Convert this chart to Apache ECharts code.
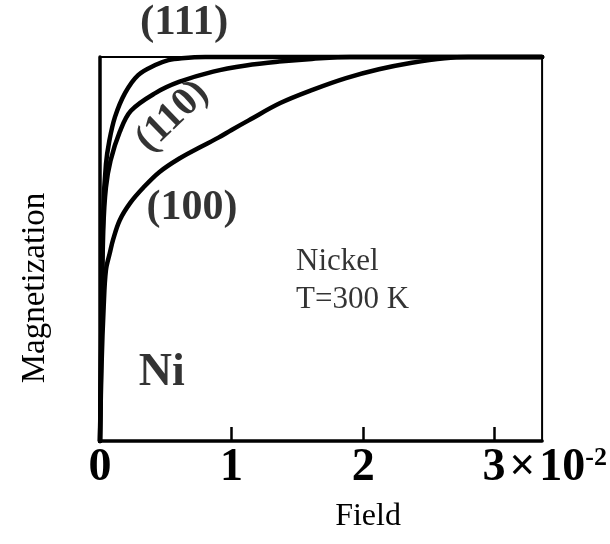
<!DOCTYPE html>
<html>
<head>
<meta charset="utf-8">
<script src="https://cdn.jsdelivr.net/npm/echarts@6/dist/echarts.min.js"></script>
<style>
  html, body { margin: 0; padding: 0; background: #ffffff; }
  #chart { width: 610px; height: 544px; }
</style>
</head>
<body>
<div id="chart"></div>
<script>
// Magnetization curves of nickel along three crystal directions (field in units of 1e-2)
const field111 = [0, 0.012, 0.025, 0.045, 0.07, 0.114, 0.19, 0.29, 0.42, 0.52, 0.62, 0.8, 3.36];
const mag111   = [0, 0.35, 0.6, 0.72, 0.78, 0.844, 0.906, 0.953, 0.979, 0.992, 0.997, 1.0, 1.0];

const field110 = [0, 0.012, 0.025, 0.045, 0.08, 0.15, 0.235, 0.42, 0.6, 0.86, 1.11, 1.36, 1.61, 1.9, 3.36];
const mag110   = [0, 0.3, 0.55, 0.66, 0.73, 0.805, 0.86, 0.906, 0.935, 0.962, 0.978, 0.988, 0.995, 1.0, 1.0];

const field100 = [0, 0.012, 0.028, 0.045, 0.075, 0.1, 0.15, 0.23, 0.33, 0.45, 0.6, 0.76, 0.9, 1.0, 1.13, 1.37, 1.62, 1.87, 2.12, 2.37, 2.62, 2.8, 3.36];
const mag100   = [0, 0.2, 0.35, 0.445, 0.49, 0.525, 0.575, 0.62, 0.66, 0.7, 0.735, 0.765, 0.79, 0.81, 0.835, 0.88, 0.915, 0.945, 0.968, 0.985, 0.997, 1.0, 1.0];

// Axis tick labels
const xTickValues = [0, 1, 2, 3];
const xTickLabels = ['0', '1', '2', '3'];
const xScaleSuffix = '\u200A×\u200A10';
const xScaleExponent = '-2';

// Text annotations placed in data coordinates
const noteText  = ['(111)', '(110)', '(100)', 'Nickel\nT=300 K', 'Ni'];
const noteField = [0.64, 0.55, 0.70, 1.49, 0.47];
const noteMag   = [1.09, 0.845, 0.607, 0.417, 0.178];

const zip = (xs, ys) => xs.map((x, i) => [x, ys[i]]);

const SERIF = '"Liberation Serif", "Times New Roman", serif';

const curveStyle = { color: '#000', width: 4.5, cap: 'round', join: 'round' };

function curve(name, xs, ys) {
  return {
    name: name,
    type: 'line',
    data: zip(xs, ys),
    showSymbol: false,
    smooth: 0.35,
    clip: false,
    lineStyle: curveStyle,
    z: 3
  };
}

const noteStyles = [
  { fontSize: 43, fontWeight: 'bold', rotate: 0, align: 'center' },
  { fontSize: 40, fontWeight: 'bold', rotate: 44, align: 'center' },
  { fontSize: 42, fontWeight: 'bold', rotate: 0, align: 'center' },
  { fontSize: 31, fontWeight: 'normal', rotate: 0, align: 'left', lineHeight: 38 },
  { fontSize: 46, fontWeight: 'bold', rotate: 0, align: 'center' }
];

const chart = echarts.init(document.getElementById('chart'), null, { renderer: 'canvas' });

chart.setOption({
  backgroundColor: '#ffffff',
  animation: false,
  grid: {
    left: 100, right: 67, top: 57, bottom: 103,
    show: true, borderColor: '#000', borderWidth: 2
  },
  xAxis: {
    type: 'value',
    min: 0, max: 3.36, interval: 1,
    name: 'Field',
    nameLocation: 'middle',
    nameGap: 60,
    nameTextStyle: { fontFamily: SERIF, fontSize: 32, color: '#000', padding: [0, 0, 0, 94] },
    axisLine: { show: true, onZero: false, lineStyle: { color: '#000', width: 3.5 } },
    axisTick: {
      show: true, inside: true, length: 14,
      lineStyle: { color: '#000', width: 2.5 },
      customValues: xTickValues.slice(1)
    },
    axisLabel: {
      margin: 4,
      customValues: xTickValues,
      formatter: function (v) {
        const i = xTickValues.indexOf(Math.round(v));
        if (i < 0) return '';
        if (i === xTickValues.length - 1) {
          return '{pad|}{n|' + xTickLabels[i] + '}{n|' + xScaleSuffix + '}{s|' + xScaleExponent + '}';
        }
        return '{n|' + xTickLabels[i] + '}';
      },
      rich: {
        n: { fontFamily: SERIF, fontSize: 46, fontWeight: 'bold', color: '#000' },
        s: { fontFamily: SERIF, fontSize: 26, fontWeight: 'bold', color: '#000', verticalAlign: 'top', padding: [0, 0, 18, 0] },
        pad: { width: 100 }
      }
    },
    splitLine: { show: false }
  },
  yAxis: {
    type: 'value',
    min: 0, max: 1,
    name: 'Magnetization',
    nameLocation: 'middle',
    nameGap: 48,
    nameRotate: 90,
    nameTextStyle: { fontFamily: SERIF, fontSize: 33, color: '#000', padding: [0, 78, 0, 0] },
    axisLine: { show: true, onZero: false, lineStyle: { color: '#000', width: 3.5 } },
    axisTick: { show: false },
    axisLabel: { show: false },
    splitLine: { show: false }
  },
  series: [
    curve('(100)', field100, mag100),
    curve('(110)', field110, mag110),
    curve('(111)', field111, mag111),
    {
      name: 'notes',
      type: 'scatter',
      symbolSize: 0,
      clip: false,
      silent: true,
      z: 5,
      data: noteText.map((t, i) => ({
        value: [noteField[i], noteMag[i]],
        label: Object.assign({
          show: true,
          position: 'inside',
          formatter: t,
          color: '#000',
          fontFamily: SERIF,
          verticalAlign: 'middle'
        }, noteStyles[i])
      }))
    }
  ]
});
</script>
</body>
</html>
